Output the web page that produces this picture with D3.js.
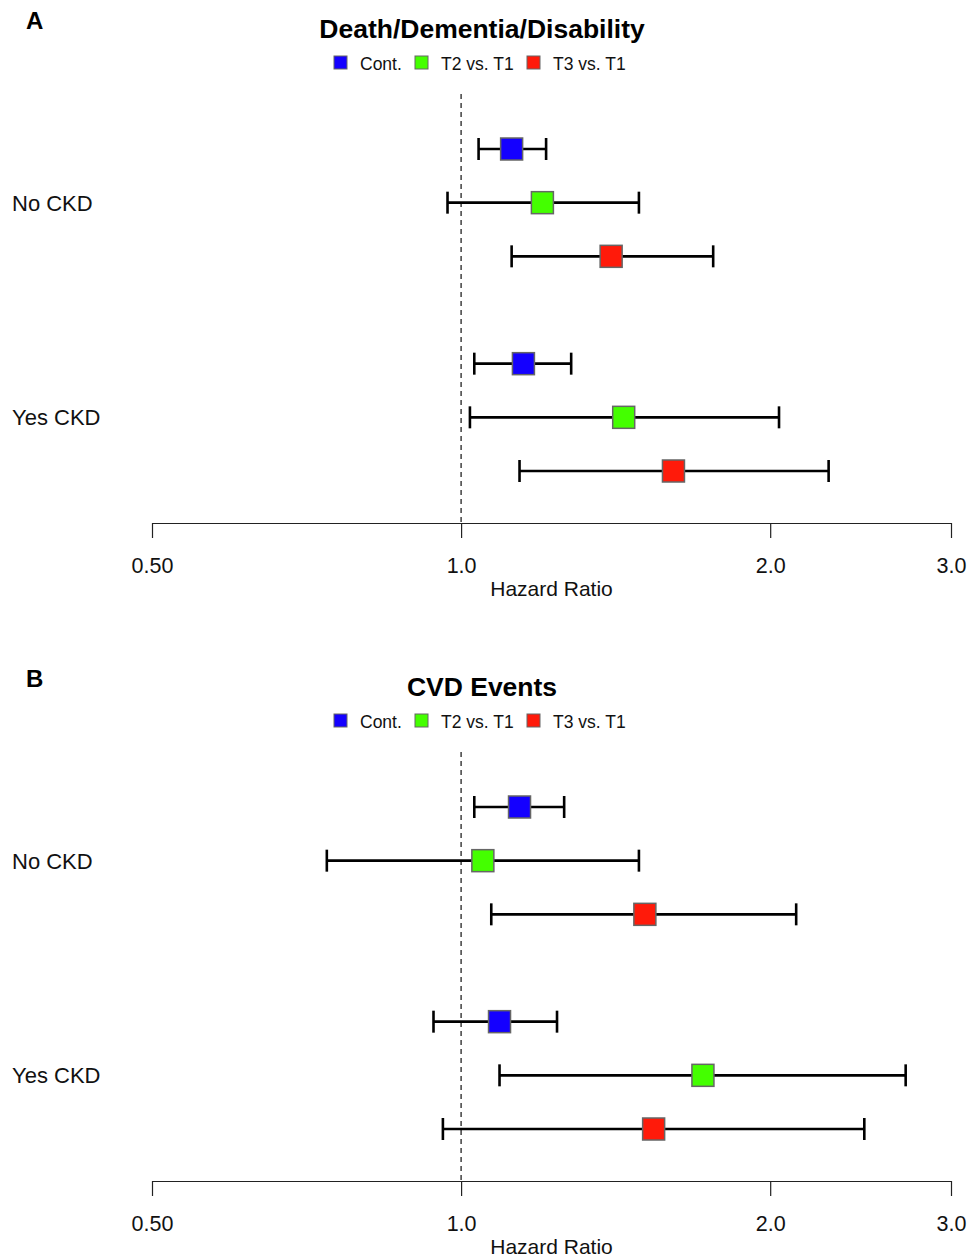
<!DOCTYPE html>
<html>
<head>
<meta charset="utf-8">
<script src="https://cdn.jsdelivr.net/npm/d3@7"></script>
<style>
  html, body { margin: 0; padding: 0; background: #fff; }
  svg { display: block; font-family: "Liberation Sans", Arial, sans-serif; }
</style>
</head>
<body>
<svg id="chart" width="969" height="1259"></svg>
<script>
// ---- Data ----
const panelLetters = ["A", "B"];
const panelTitles = ["Death/Dementia/Disability", "CVD Events"];
const groups = ["No CKD", "Yes CKD"];
const seriesNames = ["Cont.", "T2 vs. T1", "T3 vs. T1"];
const seriesColors = ["#1400ff", "#44ff00", "#ff1a0a"];
const tickValues = [0.5, 1.0, 2.0, 3.0];
const tickLabels = ["0.50", "1.0", "2.0", "3.0"];
const axisLabel = "Hazard Ratio";

// Panel A: hazard ratio, lower CI, upper CI (rows: No CKD x3, Yes CKD x3)
const hrA    = [1.12, 1.20, 1.40, 1.15, 1.44, 1.61];
const lowerA = [1.04, 0.97, 1.12, 1.03, 1.02, 1.14];
const upperA = [1.21, 1.49, 1.76, 1.28, 2.04, 2.28];
// Panel B
const hrB    = [1.14, 1.05, 1.51, 1.09, 1.72, 1.54];
const lowerB = [1.03, 0.74, 1.07, 0.94, 1.09, 0.96];
const upperB = [1.26, 1.49, 2.12, 1.24, 2.71, 2.47];

const panels = [
  { hr: hrA, lo: lowerA, hi: upperA },
  { hr: hrB, lo: lowerB, hi: upperB }
];

// ---- Layout ----
const svg = d3.select("#chart");
const x = d3.scaleLog().domain([0.5, 3.0]).range([152, 951]);
const panelOffset = 658;
const rowIndex = [0, 1, 2, 4, 5, 6];
const y = d3.scaleLinear().domain([0, 6]).range([149, 471]);
const boxSize = 22;
const capH = 22;

panels.forEach((p, pi) => {
  const g = svg.append("g").attr("transform", `translate(0,${pi * panelOffset})`);

  // Panel letter
  g.append("text").attr("x", 26).attr("y", 29)
    .attr("font-size", 24).attr("font-weight", "bold").text(panelLetters[pi]);

  // Title
  g.append("text").attr("x", 482).attr("y", 38).attr("text-anchor", "middle")
    .attr("font-size", 26.5).attr("font-weight", "bold").text(panelTitles[pi]);

  // Legend
  const legX = [334, 415, 527];
  seriesNames.forEach((s, i) => {
    g.append("rect").attr("x", legX[i]).attr("y", 56).attr("width", 13).attr("height", 13)
      .attr("fill", seriesColors[i]).attr("stroke", "#666").attr("stroke-width", 1);
    g.append("text").attr("x", legX[i] + 26).attr("y", 69.5)
      .attr("font-size", 17.5).attr("fill", "#111").text(s);
  });

  // Reference dashed line at HR = 1
  g.append("line").attr("x1", x(1)).attr("x2", x(1)).attr("y1", 94).attr("y2", 523)
    .attr("stroke", "#222").attr("stroke-width", 1.3).attr("stroke-dasharray", "5,4");

  // Group labels
  groups.forEach((gr, gi) => {
    g.append("text").attr("x", 12).attr("y", y(gi * 4 + 1) + 8)
      .attr("font-size", 22).attr("fill", "#111").text(gr);
  });

  // Rows
  p.hr.forEach((v, i) => {
    const yy = y(rowIndex[i]);
    const col = seriesColors[i % 3];
    g.append("line").attr("x1", x(p.lo[i])).attr("x2", x(p.hi[i])).attr("y1", yy).attr("y2", yy)
      .attr("stroke", "#000").attr("stroke-width", 2.6);
    [p.lo[i], p.hi[i]].forEach(c => {
      g.append("line").attr("x1", x(c)).attr("x2", x(c))
        .attr("y1", yy - capH / 2).attr("y2", yy + capH / 2)
        .attr("stroke", "#000").attr("stroke-width", 2.6);
    });
    g.append("rect").attr("x", x(v) - boxSize / 2).attr("y", yy - boxSize / 2)
      .attr("width", boxSize).attr("height", boxSize)
      .attr("fill", col).attr("stroke", "#666").attr("stroke-width", 1.5);
  });

  // Axis
  const axis = d3.axisBottom(x).tickValues(tickValues)
    .tickFormat((d, i) => tickLabels[i]).tickSize(15).tickSizeOuter(0).tickPadding(20);
  const ag = g.append("g").attr("transform", "translate(0,523)").call(axis);
  ag.select(".domain").attr("stroke", "#222").attr("stroke-width", 1.2);
  ag.selectAll(".tick line").attr("stroke", "#222").attr("stroke-width", 1.2);
  ag.selectAll(".tick text").attr("font-size", 21.5).attr("fill", "#111")
    .attr("font-family", "Liberation Sans, Arial, sans-serif");

  g.append("text").attr("x", x(Math.sqrt(0.5 * 3.0))).attr("y", 596).attr("text-anchor", "middle")
    .attr("font-size", 21).attr("fill", "#111").text(axisLabel);
});
</script>
</body>
</html>
